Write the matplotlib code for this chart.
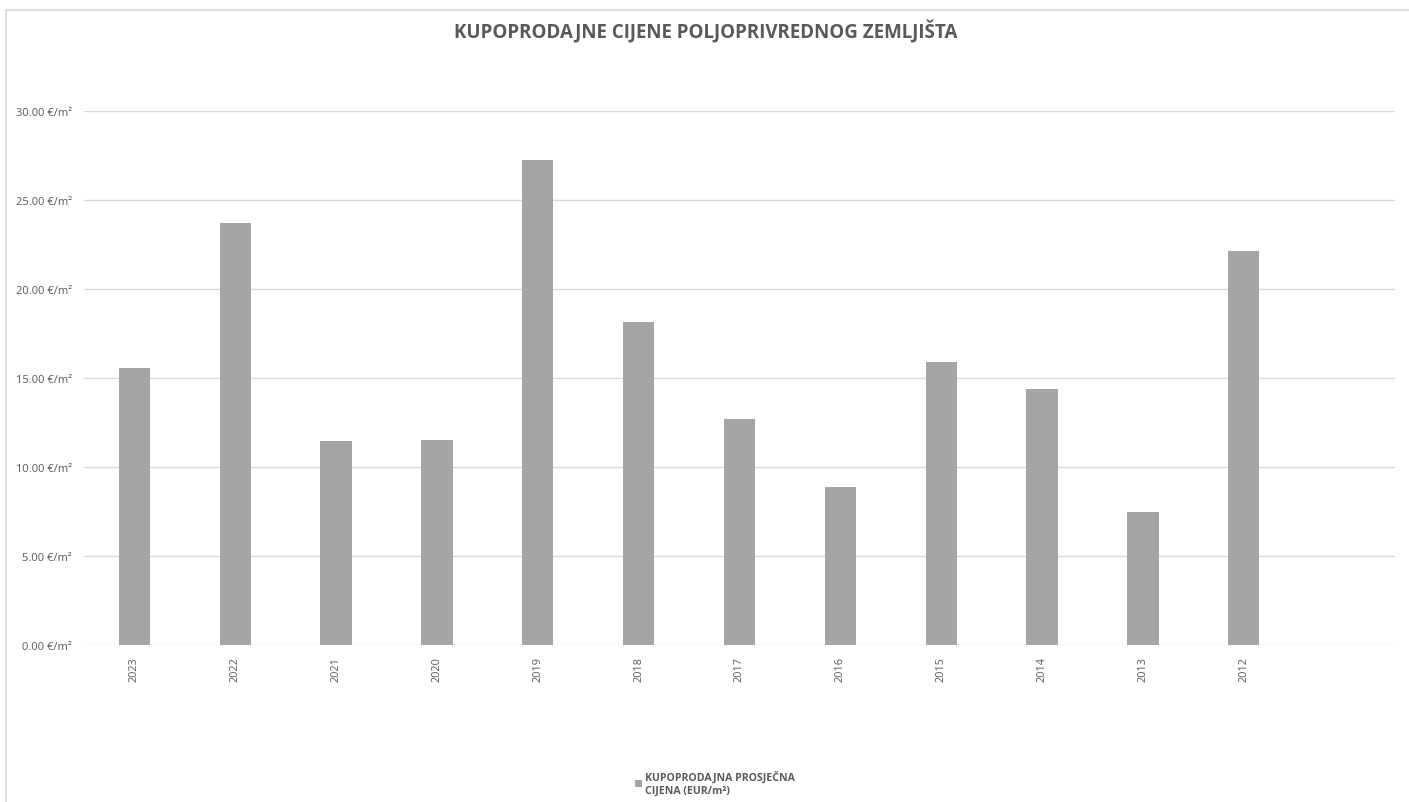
import matplotlib
matplotlib.use("Agg")
import matplotlib.pyplot as plt
from matplotlib.patches import Rectangle
import numpy as np

years = ["2023", "2022", "2021", "2020", "2019", "2018", "2017", "2016", "2015", "2014", "2013", "2012"]
prices = [15.55, 23.69, 11.47, 11.53, 27.25, 18.16, 12.68, 8.86, 15.90, 14.40, 7.45, 22.13]
yticks = [0, 5, 10, 15, 20, 25, 30]
title = "KUPOPRODAJNE CIJENE POLJOPRIVREDNOG ZEMLJIŠTA"
legend_label = "KUPOPRODAJNA PROSJEČNA\nCIJENA (EUR/m²)"

plt.rcParams['font.family'] = ['Open Sans', 'DejaVu Sans']
W, H = 1409, 803
fig = plt.figure(figsize=(W / 100, H / 100), dpi=100)
fig.patch.set_facecolor('white')

# chart border (only top and left edges fall inside the image)
fig.add_artist(Rectangle((6 / W, -0.2), 1.2, 1.2 - 11 / H, transform=fig.transFigure,
                         fill=False, edgecolor='#d9d9d9', linewidth=1.2, clip_on=False))

ax = fig.add_axes([84 / W, 1 - 646 / H, (1395 - 84) / W, (646 - 112) / H])
x = np.arange(len(years))
ax.bar(x, prices, width=0.31, color='#a5a5a5', zorder=3, label=legend_label)
ax.set_xlim(-0.5, len(years) + 0.5)
ax.set_ylim(0, 30)
ax.set_yticks(yticks)
ax.set_yticklabels([f"{v:.2f} €/m²" for v in yticks], fontsize=8, color='#595959')
ax.set_xticks(x)
ax.set_xticklabels(years, rotation=90, fontsize=7.8, color='#595959')
ax.tick_params(axis='both', length=0)
ax.tick_params(axis='y', pad=8.5)
ax.tick_params(axis='x', pad=8)
ax.yaxis.grid(True, color='#d9d9d9', linewidth=1, zorder=0)
for s in ax.spines.values():
    s.set_visible(False)

fig.text(706 / W, 1 - 32 / H, title, ha='center', va='center', fontsize=13.5,
         fontweight='bold', color='#595959')

leg = fig.legend(loc='center', bbox_to_anchor=(715 / W, 1 - 784 / H), frameon=False,
                 prop={'size': 7.6, 'weight': 'bold'}, handlelength=0.6, handleheight=0.6,
                 handletextpad=0.3, labelcolor='#595959')

fig.savefig("out.png", dpi=100, facecolor='white')
